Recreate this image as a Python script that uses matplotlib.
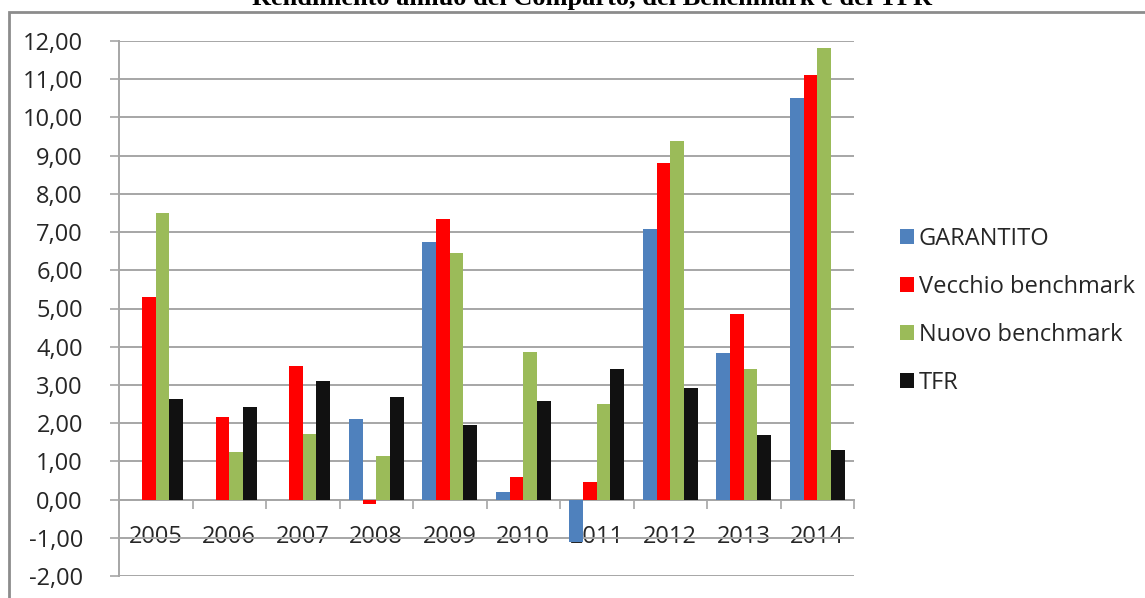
import numpy as np
import matplotlib
matplotlib.use("Agg")
import matplotlib.pyplot as plt
from matplotlib.patches import Rectangle, Patch
from matplotlib.ticker import FixedLocator, FuncFormatter

years = ['2005', '2006', '2007', '2008', '2009', '2010', '2011', '2012', '2013', '2014']
garantito = [np.nan, np.nan, np.nan, 2.11, 6.74, 0.21, -1.11, 7.08, 3.83, 10.51]
vecchio = [5.30, 2.15, 3.50, -0.12, 7.34, 0.58, 0.47, 8.80, 4.86, 11.12]
nuovo = [7.51, 1.24, 1.71, 1.15, 6.45, 3.86, 2.49, 9.39, 3.42, 11.82]
tfr = [2.62, 2.42, 3.09, 2.69, 1.95, 2.59, 3.42, 2.92, 1.68, 1.31]

labels = ['GARANTITO', 'Vecchio benchmark', 'Nuovo benchmark', 'TFR']
colors = ['#4F81BD', '#FF0000', '#9BBB59', '#111111']
grid_col = '#A6A6A6'

plt.rcParams['font.family'] = ['Open Sans', 'DejaVu Sans']

W, H = 1145, 598
fig = plt.figure(figsize=(W / 100, H / 100), dpi=100)
ax = fig.add_axes([119 / W, 1 - 576 / H, (854 - 119) / W, (576 - 41) / H])

x = np.arange(len(years))
w = 0.186
for i, (vals, c) in enumerate(zip([garantito, vecchio, nuovo, tfr], colors)):
    ax.bar(x + (i - 1.5) * w, vals, width=w, color=c, zorder=3, linewidth=0)

ax.set_xlim(-0.5, len(years) - 0.5)
ax.set_ylim(-2, 12)
ax.set_yticks(np.arange(-2, 13, 1))
ax.yaxis.set_major_formatter(FuncFormatter(lambda v, p: f"{v:.2f}".replace('.', ',')))
ax.yaxis.grid(True, color=grid_col, linewidth=1.4, zorder=0)
ax.set_axisbelow(True)

ax.spines['top'].set_visible(False)
ax.spines['right'].set_visible(False)
ax.spines['bottom'].set_position(('data', 0))
ax.spines['bottom'].set_color(grid_col)
ax.spines['bottom'].set_linewidth(1.4)
ax.spines['left'].set_color(grid_col)
ax.spines['left'].set_linewidth(1.4)

ax.set_xticks(x)
ax.set_xticklabels(years)
ax.xaxis.set_minor_locator(FixedLocator(np.arange(-0.5, len(years), 1.0)))
ax.tick_params(axis='x', which='major', length=0, pad=18, labelsize=17, labelcolor='#262626')
ax.tick_params(axis='x', which='minor', length=6.5, width=1.2, color=grid_col, direction='out')
ax.tick_params(axis='y', length=6.5, width=1.2, color=grid_col, labelsize=17, labelcolor='#262626', pad=19.5)
for t in ax.get_xticklabels():
    t.set_zorder(5)

handles = [Patch(facecolor=c, edgecolor='none') for c in colors]
fig.legend(handles, labels, loc='center left', bbox_to_anchor=(888 / W, 1 - 311 / H),
           bbox_transform=fig.transFigure, frameon=False, fontsize=17,
           handlelength=0.6, handleheight=0.6, handletextpad=0.2,
           labelspacing=1.02, borderpad=0, labelcolor='#262626')

fig.patches.append(Rectangle((9 / W, -0.05), 1.2, 1 - 11.7 / H + 0.05, transform=fig.transFigure,
                             fill=False, edgecolor='#8C8C8C', linewidth=2))

fig.text(592 / W, 1 - 5 / H, 'Rendimento annuo del Comparto, del Benchmark e del TFR',
         ha='center', va='baseline', fontsize=19, fontweight='bold',
         family=['Liberation Serif', 'DejaVu Serif'])

fig.savefig('out.png', dpi=100)
